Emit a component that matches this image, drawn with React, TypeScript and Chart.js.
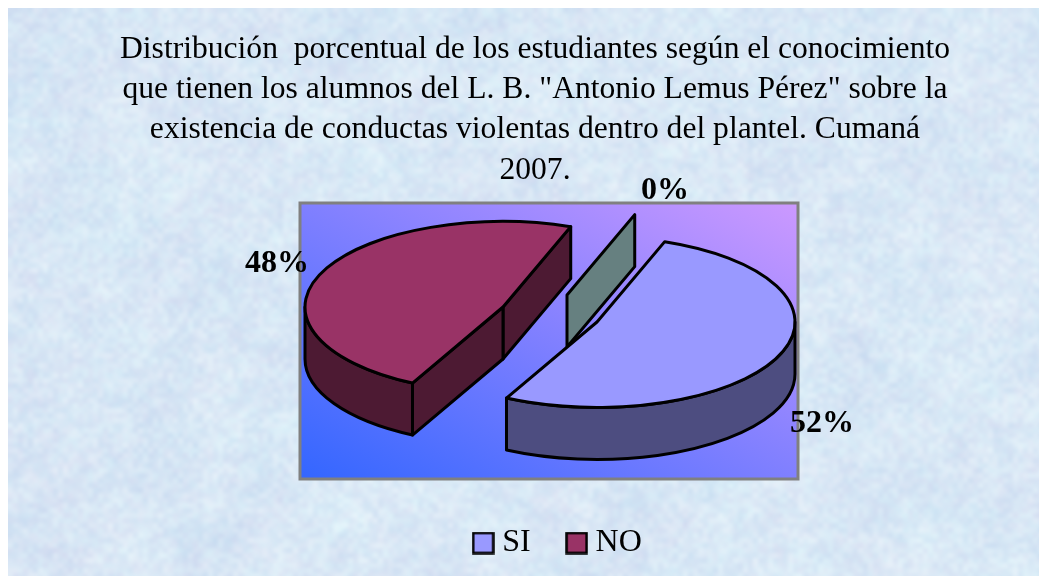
import React, { useEffect, useRef } from "react";
import { Chart, registerables } from "chart.js";

Chart.register(...registerables);

const categories = ["SI", "NO", ""];
const percentages = [52, 48, 0];
const topColors = ["#9999ff", "#993366", "#ccffff"];
const sideColors = ["#4d4d80", "#4d1a33", "#668080"];
const titleLines = [
  "Distribución  porcentual de los estudiantes según el conocimiento",
  'que tienen los alumnos del L. B. "Antonio Lemus Pérez" sobre la',
  "existencia de conductas violentas dentro del plantel. Cumaná",
  "2007.",
];

const SERIF = '"Liberation Serif", "Times New Roman", serif';
const OX = 8, OY = 8; // canvas origin on the page
const PIE = { cx: 550 - OX, cy: 315 - OY, a: 198, b: 85.5, depth: 52 };
const EXPLODE = [[47, 7], [-47, -8], [17, -20]];
const LABEL_POS = [[822 - OX, 424 - OY], [277 - OX, 264 - OY], [665 - OX, 191 - OY]];
const PLOT = { x: 300 - OX, y: 203 - OY, w: 498, h: 276 };
const LEGEND_SHIFT = 26;

function swatch(color: string) {
  const c = document.createElement("canvas");
  c.width = 23; c.height = 23;
  const g = c.getContext("2d")!;
  g.fillStyle = color;
  g.fillRect(1.5, 1.5, 20, 20);
  g.strokeStyle = "#000";
  g.lineWidth = 2.5;
  g.strokeRect(1.5, 1.5, 20, 20);
  return c;
}

// Deterministic paper texture for the chart background
function hash(x: number, y: number) {
  const s = Math.sin(x * 12.9898 + y * 78.233) * 43758.5453;
  return s - Math.floor(s);
}
function noiseLayer(w: number, h: number, cell: number, amp: number, seed: number) {
  const c = document.createElement("canvas");
  c.width = Math.ceil(w / cell) + 2;
  c.height = Math.ceil(h / cell) + 2;
  const g = c.getContext("2d")!;
  const img = g.createImageData(c.width, c.height);
  for (let y = 0; y < c.height; y++) {
    for (let x = 0; x < c.width; x++) {
      const n = hash(x + seed, y + seed * 2) - 0.5;
      const m = hash(x + seed * 3, y + seed) - 0.5;
      const p = (y * c.width + x) * 4;
      img.data[p] = 216 + n * amp + m * amp * 0.6;
      img.data[p + 1] = 231 + n * amp;
      img.data[p + 2] = 245 + n * amp * 0.4;
      img.data[p + 3] = 255;
    }
  }
  g.putImageData(img, 0, 0);
  return c;
}

const texture = {
  id: "texture",
  beforeDraw(chart: any) {
    const ctx: CanvasRenderingContext2D = chart.ctx;
    const { width: w, height: h } = chart;
    ctx.save();
    ctx.imageSmoothingEnabled = true;
    ctx.imageSmoothingQuality = "high";
    ctx.drawImage(noiseLayer(w, h, 48, 30, 7), 0, 0, w + 96, h + 96);
    ctx.globalAlpha = 0.55;
    ctx.drawImage(noiseLayer(w, h, 14, 28, 19), 0, 0, w + 28, h + 28);
    ctx.globalAlpha = 0.4;
    ctx.drawImage(noiseLayer(w, h, 5, 30, 31), 0, 0, w + 10, h + 10);
    ctx.restore();
  },
};

const pie3d = {
  id: "pie3d",
  afterLayout(chart: any) {
    chart.legend.left += LEGEND_SHIFT;
    chart.legend.right += LEGEND_SHIFT;
  },
  beforeDatasetsDraw(chart: any) {
    const ctx: CanvasRenderingContext2D = chart.ctx;
    // plot area: gradient with the other two corners at the midpoint colour
    const { x, y, w, h } = PLOT;
    const L = Math.hypot(w, h);
    const nx = h / L, ny = -w / L, d = (w * h) / L;
    const mx = x + w / 2, my = y + h / 2;
    const g = ctx.createLinearGradient(mx - nx * d, my - ny * d, mx + nx * d, my + ny * d);
    g.addColorStop(0, "#3366ff");
    g.addColorStop(1, "#cc99ff");
    ctx.save();
    ctx.fillStyle = g;
    ctx.fillRect(x, y, w, h);
    ctx.strokeStyle = "#808080";
    ctx.lineWidth = 3;
    ctx.strokeRect(x, y, w, h);
    ctx.restore();

    const meta = chart.getDatasetMeta(0);
    const { a, b, depth } = PIE;
    ctx.save();
    ctx.lineWidth = 3;
    ctx.lineJoin = "round";
    ctx.strokeStyle = "#000";
    const order = [2, 1, 0];
    for (const i of order) {
      const arc = meta.data[i];
      const t1: number = arc.startAngle;
      const t2: number = arc.endAngle;
      const cx = PIE.cx + EXPLODE[i][0];
      const cy = PIE.cy + EXPLODE[i][1];
      const px = (t: number) => cx + a * Math.cos(t);
      const py = (t: number) => cy + b * Math.sin(t);
      const face = (t: number) => {
        ctx.beginPath();
        ctx.moveTo(cx, cy);
        ctx.lineTo(px(t), py(t));
        ctx.lineTo(px(t), py(t) + depth);
        ctx.lineTo(cx, cy + depth);
        ctx.closePath();
        ctx.fillStyle = sideColors[i];
        ctx.fill();
        ctx.stroke();
      };
      if (Math.cos(t2) > 0) face(t2);
      if (Math.cos(t1) < 0) face(t1);
      // outer rim: the part of the arc facing the viewer
      const k = Math.ceil(t1 / (2 * Math.PI) - 0.5);
      const base = k * 2 * Math.PI;
      const from = Math.max(t1, base);
      const to = Math.min(t2, base + Math.PI);
      if (to > from) {
        ctx.beginPath();
        ctx.ellipse(cx, cy, a, b, 0, from, to);
        ctx.lineTo(px(to), py(to) + depth);
        ctx.ellipse(cx, cy + depth, a, b, 0, to, from, true);
        ctx.closePath();
        ctx.fillStyle = sideColors[i];
        ctx.fill();
        ctx.stroke();
      }
      // top face, filled by the library's arc element
      if (t2 > t1) {
        const R = arc.outerRadius;
        ctx.save();
        ctx.translate(cx, cy);
        ctx.scale(a / R, b / R);
        ctx.translate(-arc.x, -arc.y);
        arc.draw(ctx);
        ctx.restore();
        ctx.beginPath();
        ctx.moveTo(cx, cy);
        ctx.ellipse(cx, cy, a, b, 0, t1, t2);
        ctx.closePath();
        ctx.stroke();
      }
    }
    ctx.restore();

    // value labels
    ctx.save();
    ctx.font = `bold 32px ${SERIF}`;
    ctx.fillStyle = "#000";
    ctx.textAlign = "center";
    ctx.textBaseline = "middle";
    percentages.forEach((v, i) => {
      ctx.fillText(`${v}%`, LABEL_POS[i][0], LABEL_POS[i][1]);
    });
    ctx.restore();
    return false;
  },
};

export default function App() {
  const ref = useRef<HTMLCanvasElement>(null);
  useEffect(() => {
    document.documentElement.style.overflow = "hidden";
    document.body.style.overflow = "hidden";
    const chart = new Chart(ref.current!, {
      type: "pie",
      data: {
        labels: categories,
        datasets: [{ data: percentages, backgroundColor: topColors, borderWidth: 0 }],
      },
      options: {
        animation: false,
        responsive: false,
        rotation: 20,
        layout: { padding: { left: 15, right: 21, bottom: 19 } },
        plugins: {
          tooltip: { enabled: false },
          title: {
            display: true,
            text: titleLines,
            color: "#000",
            font: { family: SERIF, size: 31.6, weight: "normal", lineHeight: 1.28 },
            padding: { top: 21, bottom: 0 },
          },
          legend: {
            position: "bottom",
            labels: {
              color: "#000",
              font: { family: SERIF, size: 32 },
              usePointStyle: true,
              boxWidth: 6,
              boxHeight: 6,
              padding: 43,
              generateLabels: () =>
                categories
                  .map((text, i) => ({ text, pointStyle: swatch(topColors[i]), fillStyle: topColors[i], lineWidth: 0, strokeStyle: "#000", index: i, hidden: false }))
                  .filter((it) => it.text !== ""),
            },
          },
        },
      },
      plugins: [texture, pie3d],
    } as any);
    return () => chart.destroy();
  }, []);

  return <canvas ref={ref} width={1060} height={580} style={{ display: "block" }} />;
}
